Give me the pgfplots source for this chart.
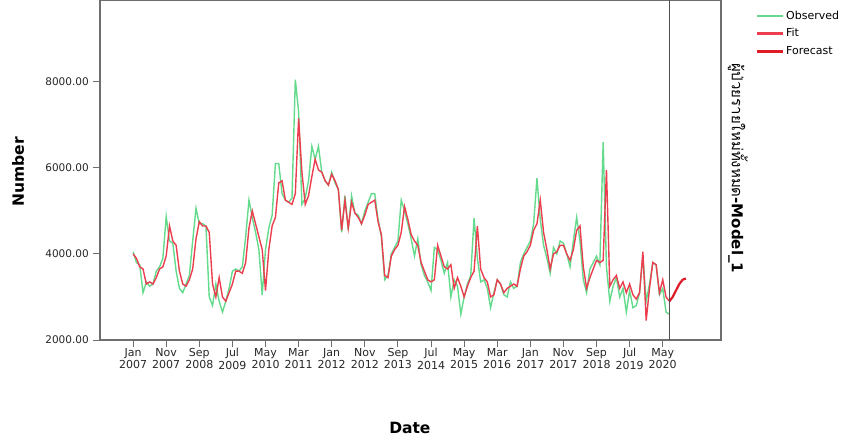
\documentclass[border=0pt]{standalone}
\usepackage{fontspec}
\setmainfont{DejaVu Sans}
\newfontfamily\thaifont[Script=Thai]{Loma}
\usepackage{pgfplots}
\usepackage{pgfplotstable}
\pgfplotsset{compat=1.18}
\definecolor{obsgreen}{RGB}{100,218,140}
\definecolor{fitred}{RGB}{235,62,78}
\definecolor{fcred}{RGB}{222,28,40}
\definecolor{frm}{RGB}{110,110,110}
\definecolor{vline}{RGB}{80,80,80}
\pgfplotstableread{
m obs fit
0 4050 4000
1 3800 3900
2 3750 3700
3 3100 3650
4 3350 3300
5 3250 3350
6 3300 3300
7 3600 3450
8 3700 3650
9 3900 3700
10 4870 3950
11 4300 4650
12 4250 4300
13 3600 4200
14 3200 3600
15 3100 3300
16 3300 3250
17 3500 3400
18 4300 3650
19 5060 4350
20 4700 4750
21 4700 4650
22 4650 4650
23 3000 4500
24 2800 3300
25 3300 3000
26 2900 3450
27 2650 3000
28 2900 2900
29 3200 3100
30 3600 3300
31 3650 3600
32 3600 3600
33 3700 3550
34 4400 3800
35 5250 4600
36 4850 5000
37 4500 4700
38 4100 4400
39 3050 4100
40 4100 3150
41 4600 4100
42 4900 4650
43 6100 4850
44 6100 5650
45 5400 5700
46 5250 5250
47 5200 5200
48 5300 5150
49 8050 5400
50 7300 7150
51 5150 5900
52 5300 5150
53 5700 5350
54 6500 5800
55 6200 6200
56 6500 5950
57 5900 5900
58 5700 5700
59 5600 5600
60 5900 5850
61 5650 5700
62 5500 5500
63 4500 4550
64 5350 5250
65 4550 4600
66 5350 5200
67 4950 4950
68 4900 4850
69 4700 4700
70 5000 4900
71 5200 5150
72 5400 5200
73 5400 5250
74 4800 4750
75 4400 4450
76 3400 3500
77 3500 3450
78 4000 3950
79 4150 4100
80 4300 4200
81 5250 4500
82 5000 5100
83 4700 4800
84 4350 4450
85 3950 4300
86 4350 4200
87 3750 3800
88 3500 3600
89 3350 3400
90 3150 3350
91 4150 3400
92 4100 4200
93 3850 3950
94 3550 3700
95 3800 3650
96 3000 3750
97 3400 3200
98 3250 3450
99 2600 3250
100 3000 3000
101 3300 3250
102 3500 3450
103 4830 3600
104 3900 4650
105 3350 3650
106 3400 3450
107 3200 3350
108 2750 3000
109 3100 3050
110 3400 3400
111 3300 3300
112 3050 3100
113 3000 3200
114 3350 3250
115 3200 3300
116 3250 3250
117 3800 3650
118 4000 3950
119 4150 4050
120 4300 4200
121 4700 4550
122 5760 4700
123 4800 5250
124 4200 4500
125 3900 4100
126 3550 3650
127 4150 4000
128 4000 4050
129 4300 4200
130 4250 4200
131 4000 4000
132 3700 3850
133 4300 4100
134 4850 4550
135 4300 4650
136 3400 3700
137 3100 3200
138 3650 3450
139 3800 3650
140 3950 3850
141 3750 3800
142 6600 3850
143 3700 5950
144 2900 3250
145 3250 3400
146 3450 3500
147 3000 3200
148 3200 3350
149 2650 3100
150 3150 3300
151 2750 3050
152 2800 2950
153 3100 3100
154 3950 4050
155 2900 2450
156 3300 3200
157 3800 3800
158 3750 3750
159 3050 3100
160 3200 3400
161 2650 3000
162 2600 2900
}\obsfit
\pgfplotstableread{
m fc
162 2900
163 3000
164 3150
165 3300
166 3400
167 3430
}\forecast
\begin{document}
\begin{tikzpicture}[x=1pt,y=1pt]
\useasboundingbox (-100,-99) rectangle (745,340);
\begin{axis}[
  at={(0,0)}, anchor=south west,
  scale only axis, width=621pt, height=340pt,
  xmin=-10, xmax=177.6, ymin=2000, ymax=9900,
  axis line style={frm, line width=1.3pt},
  tick style={frm, line width=1pt},
  tick align=outside,
  major tick length=7pt,
  xtick pos=bottom, ytick pos=left,
  xtick={0,10,...,160},
  xticklabels={Jan\\2007,Nov\\2007,Sep\\2008,Jul\\2009,May\\2010,Mar\\2011,Jan\\2012,Nov\\2012,Sep\\2013,Jul\\2014,May\\2015,Mar\\2016,Jan\\2017,Nov\\2017,Sep\\2018,Jul\\2019,May\\2020},
  xticklabel style={align=center, font=\fontsize{11}{12.5}\selectfont, text=black!85, inner sep=1pt},
  ytick={2000,4000,6000,8000},
  yticklabels={2000.00,4000.00,6000.00,8000.00},
  yticklabel style={font=\fontsize{10.5}{12}\selectfont, text=black!85, inner sep=1pt, xshift=-3pt},
  clip=false,
  legend style={at={(1.055,0.975)}, anchor=north west, draw=none, fill=none,
    font=\fontsize{11}{12}\selectfont, row sep=4pt, inner sep=0pt},
  legend cell align=left,
  legend image code/.code={\draw[#1] (0pt,0pt) -- (26pt,0pt);},
]
\addplot[obsgreen, line width=1.4pt, forget plot] table[x=m, y=obs] {\obsfit};
\addplot[fitred, line width=1.4pt, forget plot] table[x=m, y=fit] {\obsfit};
\addplot[fcred, line width=2.2pt, forget plot] table[x=m, y=fc] {\forecast};
\addplot[vline, line width=1.6pt, forget plot] coordinates {(162,2000) (162,9900)};
\addlegendimage{color=obsgreen, line width=2.2pt}
\addlegendentry{Observed}
\addlegendimage{color=fitred, line width=2.2pt}
\addlegendentry{Fit}
\addlegendimage{color=fcred, line width=2.8pt}
\addlegendentry{Forecast}
\node[font=\bfseries\fontsize{15.5}{16}\selectfont, rotate=90] at (rel axis cs:-0.132,0.494) {Number};
\node[font=\bfseries\fontsize{15.5}{16}\selectfont] at (rel axis cs:0.499,-0.259) {Date};
\node[font=\bfseries\fontsize{15}{16}\selectfont, rotate=-90, anchor=west, inner sep=0pt] at (rel axis cs:1.027,0.815) {{\thaifont\mdseries ผู้ป่วยรายใหม่ทั้งหมด}-Model\_1};
\end{axis}
\end{tikzpicture}
\end{document}
